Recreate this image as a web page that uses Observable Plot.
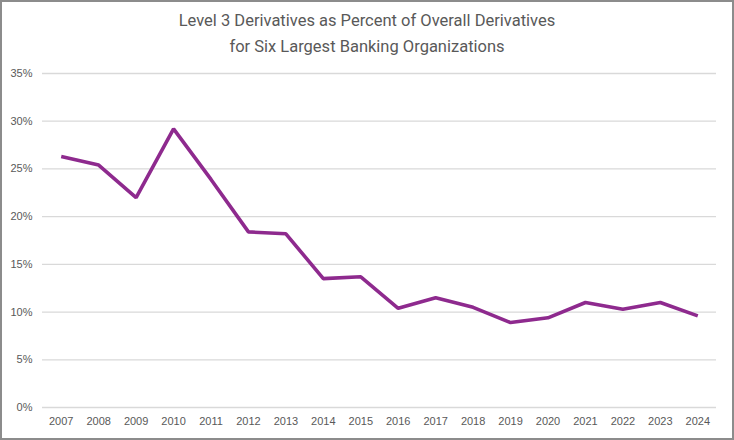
<!DOCTYPE html>
<html>
<head>
<meta charset="utf-8">
<script src="https://cdn.jsdelivr.net/npm/d3@7"></script>
<script src="https://cdn.jsdelivr.net/npm/@observablehq/plot@0.6"></script>
<style>
  html, body { margin: 0; padding: 0; background: #fff; }
  #wrap { position: relative; width: 734px; height: 440px; background: #fff; overflow: hidden; }
  #frame { position: absolute; left: 0; top: 0; width: 734px; height: 440px; box-sizing: border-box; border: 2px solid #8c8c8c; pointer-events: none; }
  #title { position: absolute; left: 0; top: 8px; width: 734px; text-align: center; font-family: "Roboto", sans-serif; font-size: 16.5px; line-height: 26px; color: #595959; }
  #chart { position: absolute; left: 0; top: 56px; }
</style>
</head>
<body>
<div id="wrap">
  <div id="title">Level 3 Derivatives as Percent of Overall Derivatives<br>for Six Largest Banking Organizations</div>
  <div id="chart"></div>
  <div id="frame"></div>
</div>
<script>
const years = ["2007","2008","2009","2010","2011","2012","2013","2014","2015","2016","2017","2018","2019","2020","2021","2022","2023","2024"];
const values = [26.3, 25.4, 22.0, 29.2, 23.9, 18.4, 18.2, 13.5, 13.7, 10.4, 11.5, 10.5, 8.9, 9.4, 11.0, 10.3, 11.0, 9.6];
const yTicks = [0, 5, 10, 15, 20, 25, 30, 35];

const data = years.map((y, i) => ({year: y, value: values[i]}));

const chart = Plot.plot({
  width: 734,
  height: 381,
  marginTop: 17,
  marginBottom: 30,
  marginLeft: 42,
  marginRight: 18,
  style: {fontFamily: "'Liberation Sans', Arial, sans-serif", fontSize: "11px", color: "#595959", background: "transparent"},
  x: {type: "point", domain: years, padding: 0.5, round: false, label: null, tickSize: 0, tickPadding: 10},
  y: {domain: [0, 35], ticks: yTicks, tickFormat: d => d + "%", label: null, tickSize: 0, tickPadding: 10},
  marks: [
    Plot.ruleY(yTicks, {stroke: "#d9d9d9", strokeWidth: 1.3}),
    Plot.lineY(data, {x: "year", y: "value", stroke: "#8e2a8e", strokeWidth: 3.6, strokeLinejoin: "miter", strokeLinecap: "butt"})
  ]
});
document.getElementById("chart").appendChild(chart);
</script>
</body>
</html>
